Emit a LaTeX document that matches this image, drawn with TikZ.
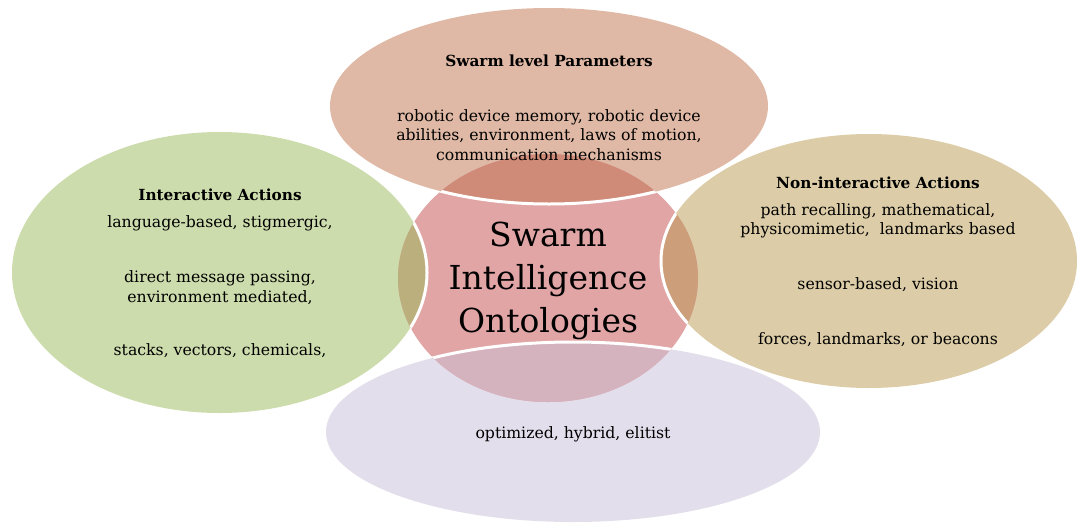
\documentclass[tikz,border=0pt]{standalone}
\usepackage{fontspec}
\setmainfont{DejaVu Serif}
\definecolor{cTop}{HTML}{DFB9A5}
\definecolor{oTop}{HTML}{CF8B78}
\definecolor{cCen}{HTML}{E1A5A5}
\definecolor{cLeft}{HTML}{CDDCAC}
\definecolor{oLeft}{HTML}{BBB07D}
\definecolor{cRight}{HTML}{DCCDA8}
\definecolor{oRight}{HTML}{CC9E7A}
\definecolor{cBot}{HTML}{E3DEEB}
\definecolor{oBot}{HTML}{D5B3BE}
\begin{document}
\begin{tikzpicture}[x=1pt,y=-1pt,
  body/.style={align=center, font=\fontsize{15.7}{19.5}\selectfont, inner sep=0pt, text=black},
  ttl/.style={align=center, font=\fontsize{15.3}{19.5}\selectfont\bfseries, inner sep=0pt},
  sep/.style={draw=white, line width=3pt}]
\useasboundingbox (0,0) rectangle (1081,523);
\def\Ctr{(548,278) ellipse [x radius=150pt, y radius=124pt]}
\def\Etop{(549,106) ellipse [x radius=219pt, y radius=98pt]}
\def\Eleft{(219.5,272.5) ellipse [x radius=207.5pt, y radius=140.5pt]}
\def\Eright{(869,261) ellipse [x radius=208pt, y radius=127pt]}
\def\Ebot{(573,432) ellipse [x radius=247pt, y radius=90pt]}
\fill[cTop] \Etop;
\fill[cLeft] \Eleft;
\fill[cRight] \Eright;
\fill[cBot] \Ebot;
\fill[cCen] \Ctr;
\node[align=center, font=\fontsize{33}{43}\selectfont, inner sep=0pt] (center) at (548,281) {Swarm\\Intelligence\\Ontologies};
\begin{scope}\clip \Etop; \fill[oTop] \Ctr;\end{scope}
\begin{scope}\clip \Eleft; \fill[oLeft] \Ctr;\end{scope}
\begin{scope}\clip \Eright; \fill[oRight] \Ctr;\end{scope}
\begin{scope}\clip \Ebot; \fill[oBot] \Ctr;\end{scope}
\begin{scope}\clip \Ctr;
\draw[sep] \Etop; \draw[sep] \Eleft; \draw[sep] \Eright; \draw[sep] \Ebot;
\end{scope}
% top
\node[ttl] (ttop) at (549,61) {Swarm level Parameters};
\node[body] (btop) at (549,135) {robotic device memory, robotic device\\abilities, environment, laws of motion,\\communication mechanisms};
% left
\node[ttl] (tleft) at (220,195) {Interactive Actions};
\node[body] (bleft1) at (220,223) {language-based, stigmergic,};
\node[body] (bleft2) at (220,287.5) {direct message passing,\\environment mediated,};
\node[body] (bleft3) at (220,351) {stacks, vectors, chemicals,};
% right
\node[ttl] (tright) at (878,183) {Non-interactive Actions};
\node[body] (bright1) at (878,221) {path recalling, mathematical,\\physicomimetic,\ \ landmarks based};
\node[body] (bright2) at (878,285) {sensor-based, vision};
\node[body] (bright3) at (878,340) {forces, landmarks, or beacons};
% bottom
\node[body] (bbot) at (573,434) {optimized, hybrid, elitist};
\end{tikzpicture}
\end{document}
